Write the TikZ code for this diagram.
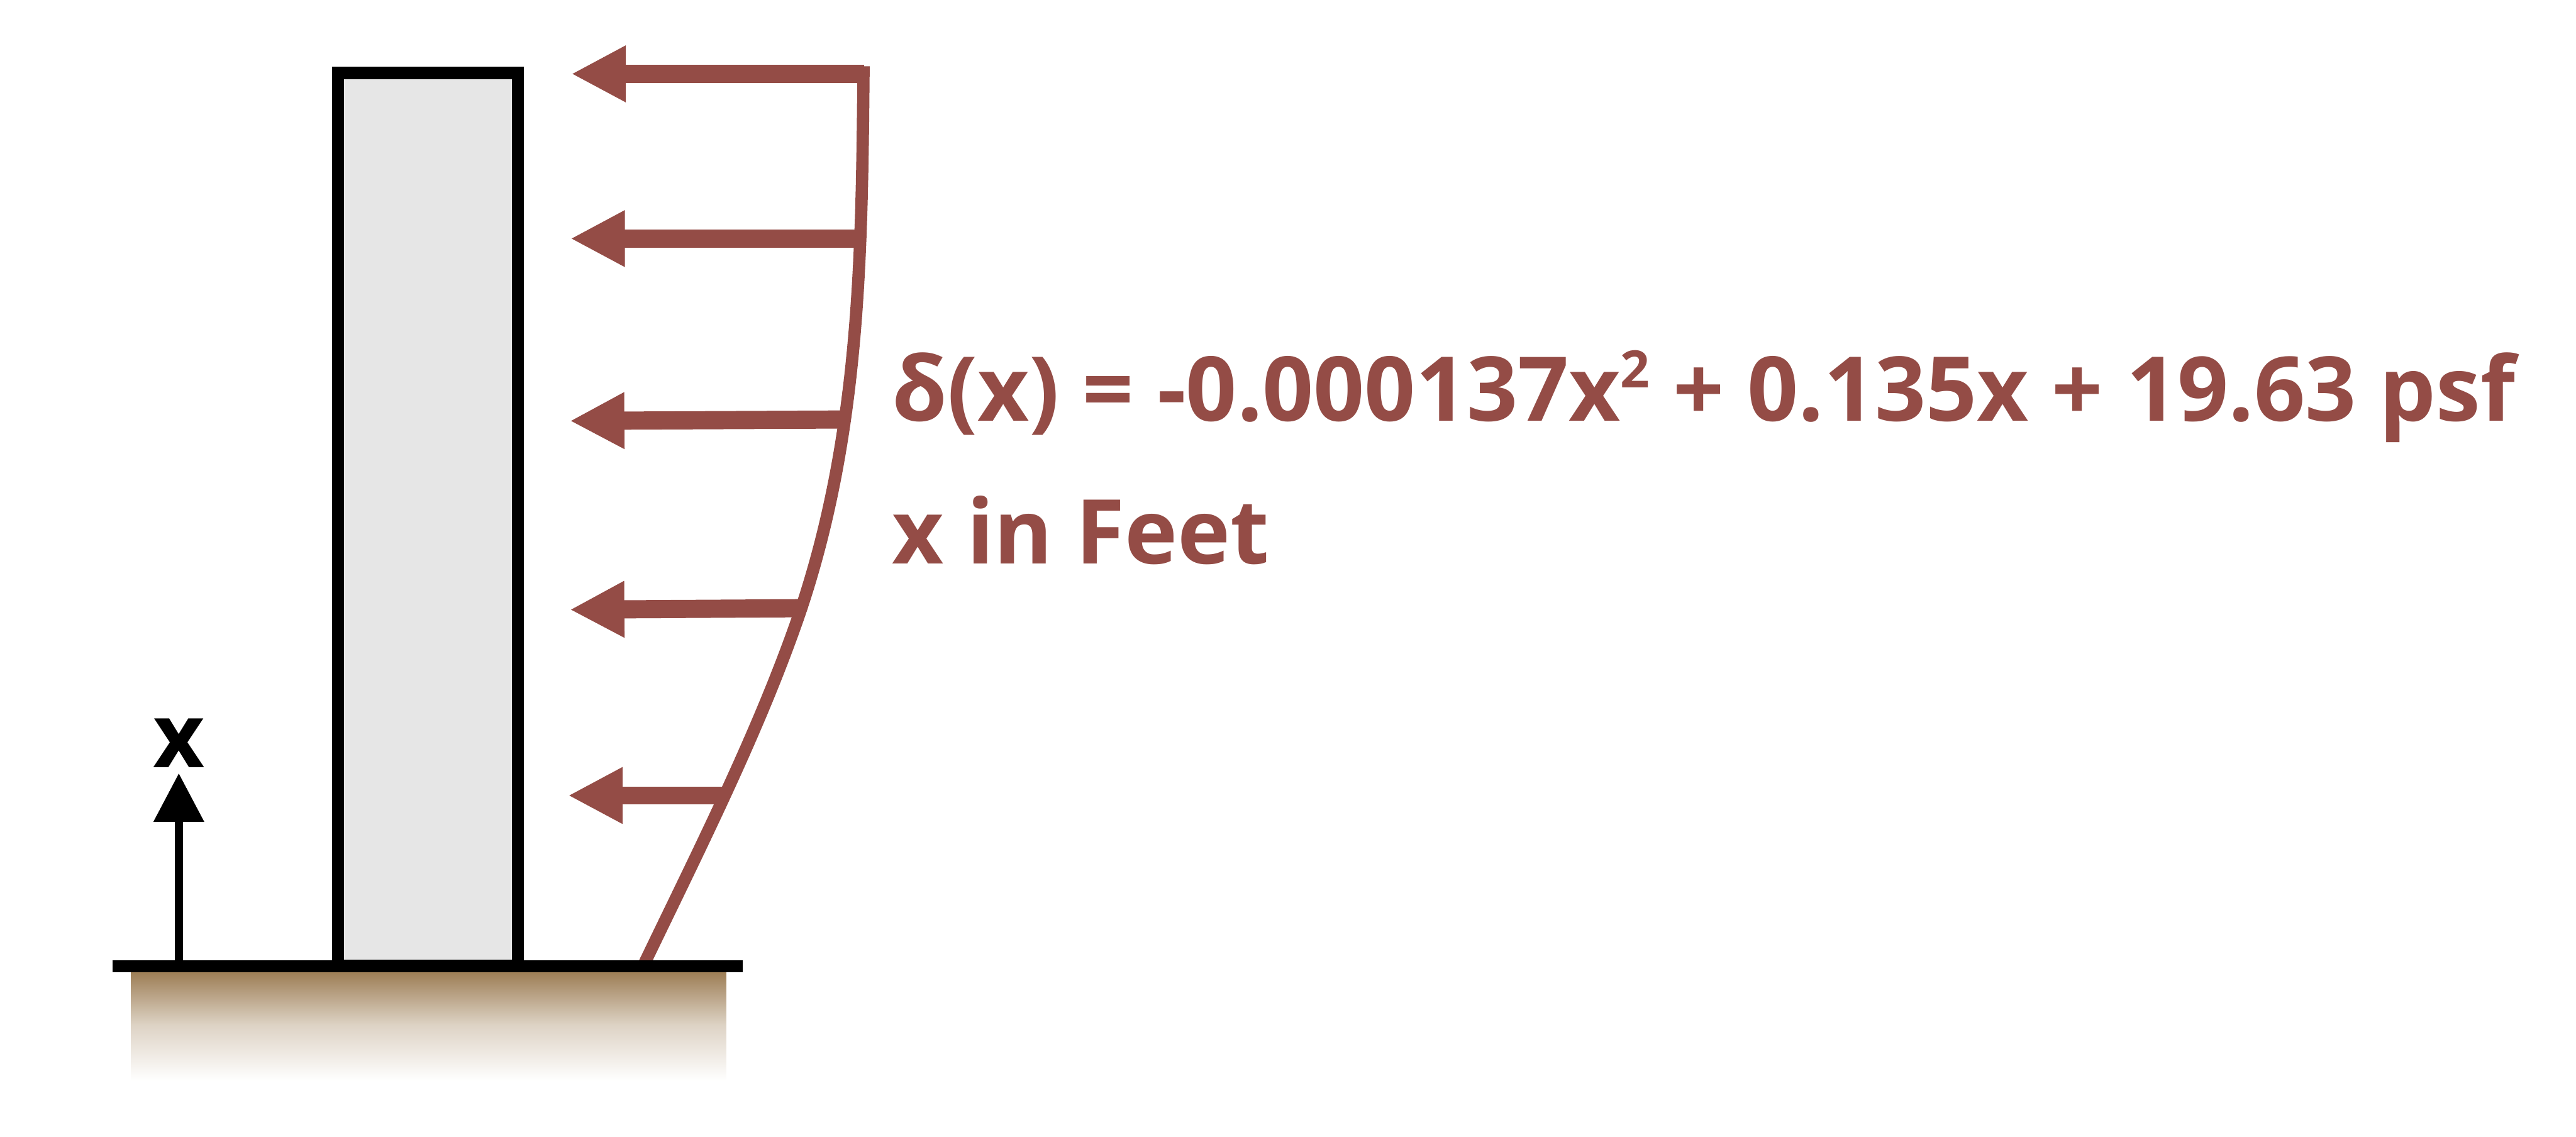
\documentclass[tikz,border=0pt]{standalone}
\usepackage{fontspec}
\setmainfont{Open Sans}
\usetikzlibrary{arrows.meta}
\definecolor{loadred}{HTML}{944C46}
\definecolor{soilbrown}{HTML}{9A7A50}
\definecolor{wallgray}{HTML}{E6E6E6}
\tikzset{
  loadarrow/.style={-{Triangle[length=0.93cm,width=0.90cm]}, loadred, line width=0.31cm},
  loadcurve/.style={loadred, line width=0.21cm},
  labeltext/.style={anchor=base west, inner sep=0pt, text=loadred, font=\fontsize{43.4}{52}\selectfont\bfseries},
}
\begin{document}
\begin{tikzpicture}
    \useasboundingbox (0,0) rectangle (43.94,19.39);

    % Boden
    \shade[top color=soilbrown, bottom color=white, middle color=soilbrown!33] (2.235,0.95) rectangle (12.39,2.85);

    % Wand
    \draw[fill=wallgray, line width=0.21cm] (5.765,2.91) rectangle (8.835,18.145);

    % Kurve der Last
    \draw[loadcurve] (10.97,2.91) .. controls (11.95,4.95) and (12.98,6.98) .. (13.67,9.02)
        .. controls (14.69,12.1) and (14.70,15.18) .. (14.73,18.26);

    % Lastpfeile
    \coordinate (start1) at (14.74,18.13);
    \coordinate (tip1) at (9.745,18.13);
    \coordinate (start2) at (14.67,15.32);
    \coordinate (tip2) at (9.73,15.32);
    \coordinate (start3) at (14.41,12.234);
    \coordinate (tip3) at (9.72,12.21);
    \coordinate (start4) at (13.67,9.015);
    \coordinate (tip4) at (9.72,8.99);
    \coordinate (start5) at (12.38,5.82);
    \coordinate (tip5) at (9.69,5.82);
    \draw[loadarrow] (start1) -- (tip1);
    \draw[loadarrow] (start2) -- (tip2);
    \draw[loadarrow] (start3) -- (tip3);
    \draw[loadarrow] (start4) -- (tip4);
    \draw[loadarrow] (start5) -- (tip5);

    % Bodenlinie
    \coordinate (groundleft) at (1.92,2.91);
    \coordinate (groundright) at (12.67,2.91);
    \draw[line width=0.20cm] (groundleft) -- (groundright);

    % Achse x
    \coordinate (axisfoot) at (3.05,2.91);
    \coordinate (axistip) at (3.05,6.20);
    \draw[-{Triangle[length=0.83cm,width=0.83cm]}, line width=0.14cm] (axisfoot) -- (axistip);
    \node[anchor=base, inner sep=0pt, font=\fontsize{43.4}{52}\selectfont\bfseries] (axislabel) at (3.05,6.30) {x};

    % Formel
    \node[labeltext] (formula) at (15.21,12.203) {δ(x) = -0.000137x\raisebox{0.57cm}{\fontsize{25}{25}\selectfont 2} + 0.135x + 19.63 psf};
    \node[labeltext] (unitnote) at (15.205,9.773) {x in Feet};
\end{tikzpicture}
\end{document}
